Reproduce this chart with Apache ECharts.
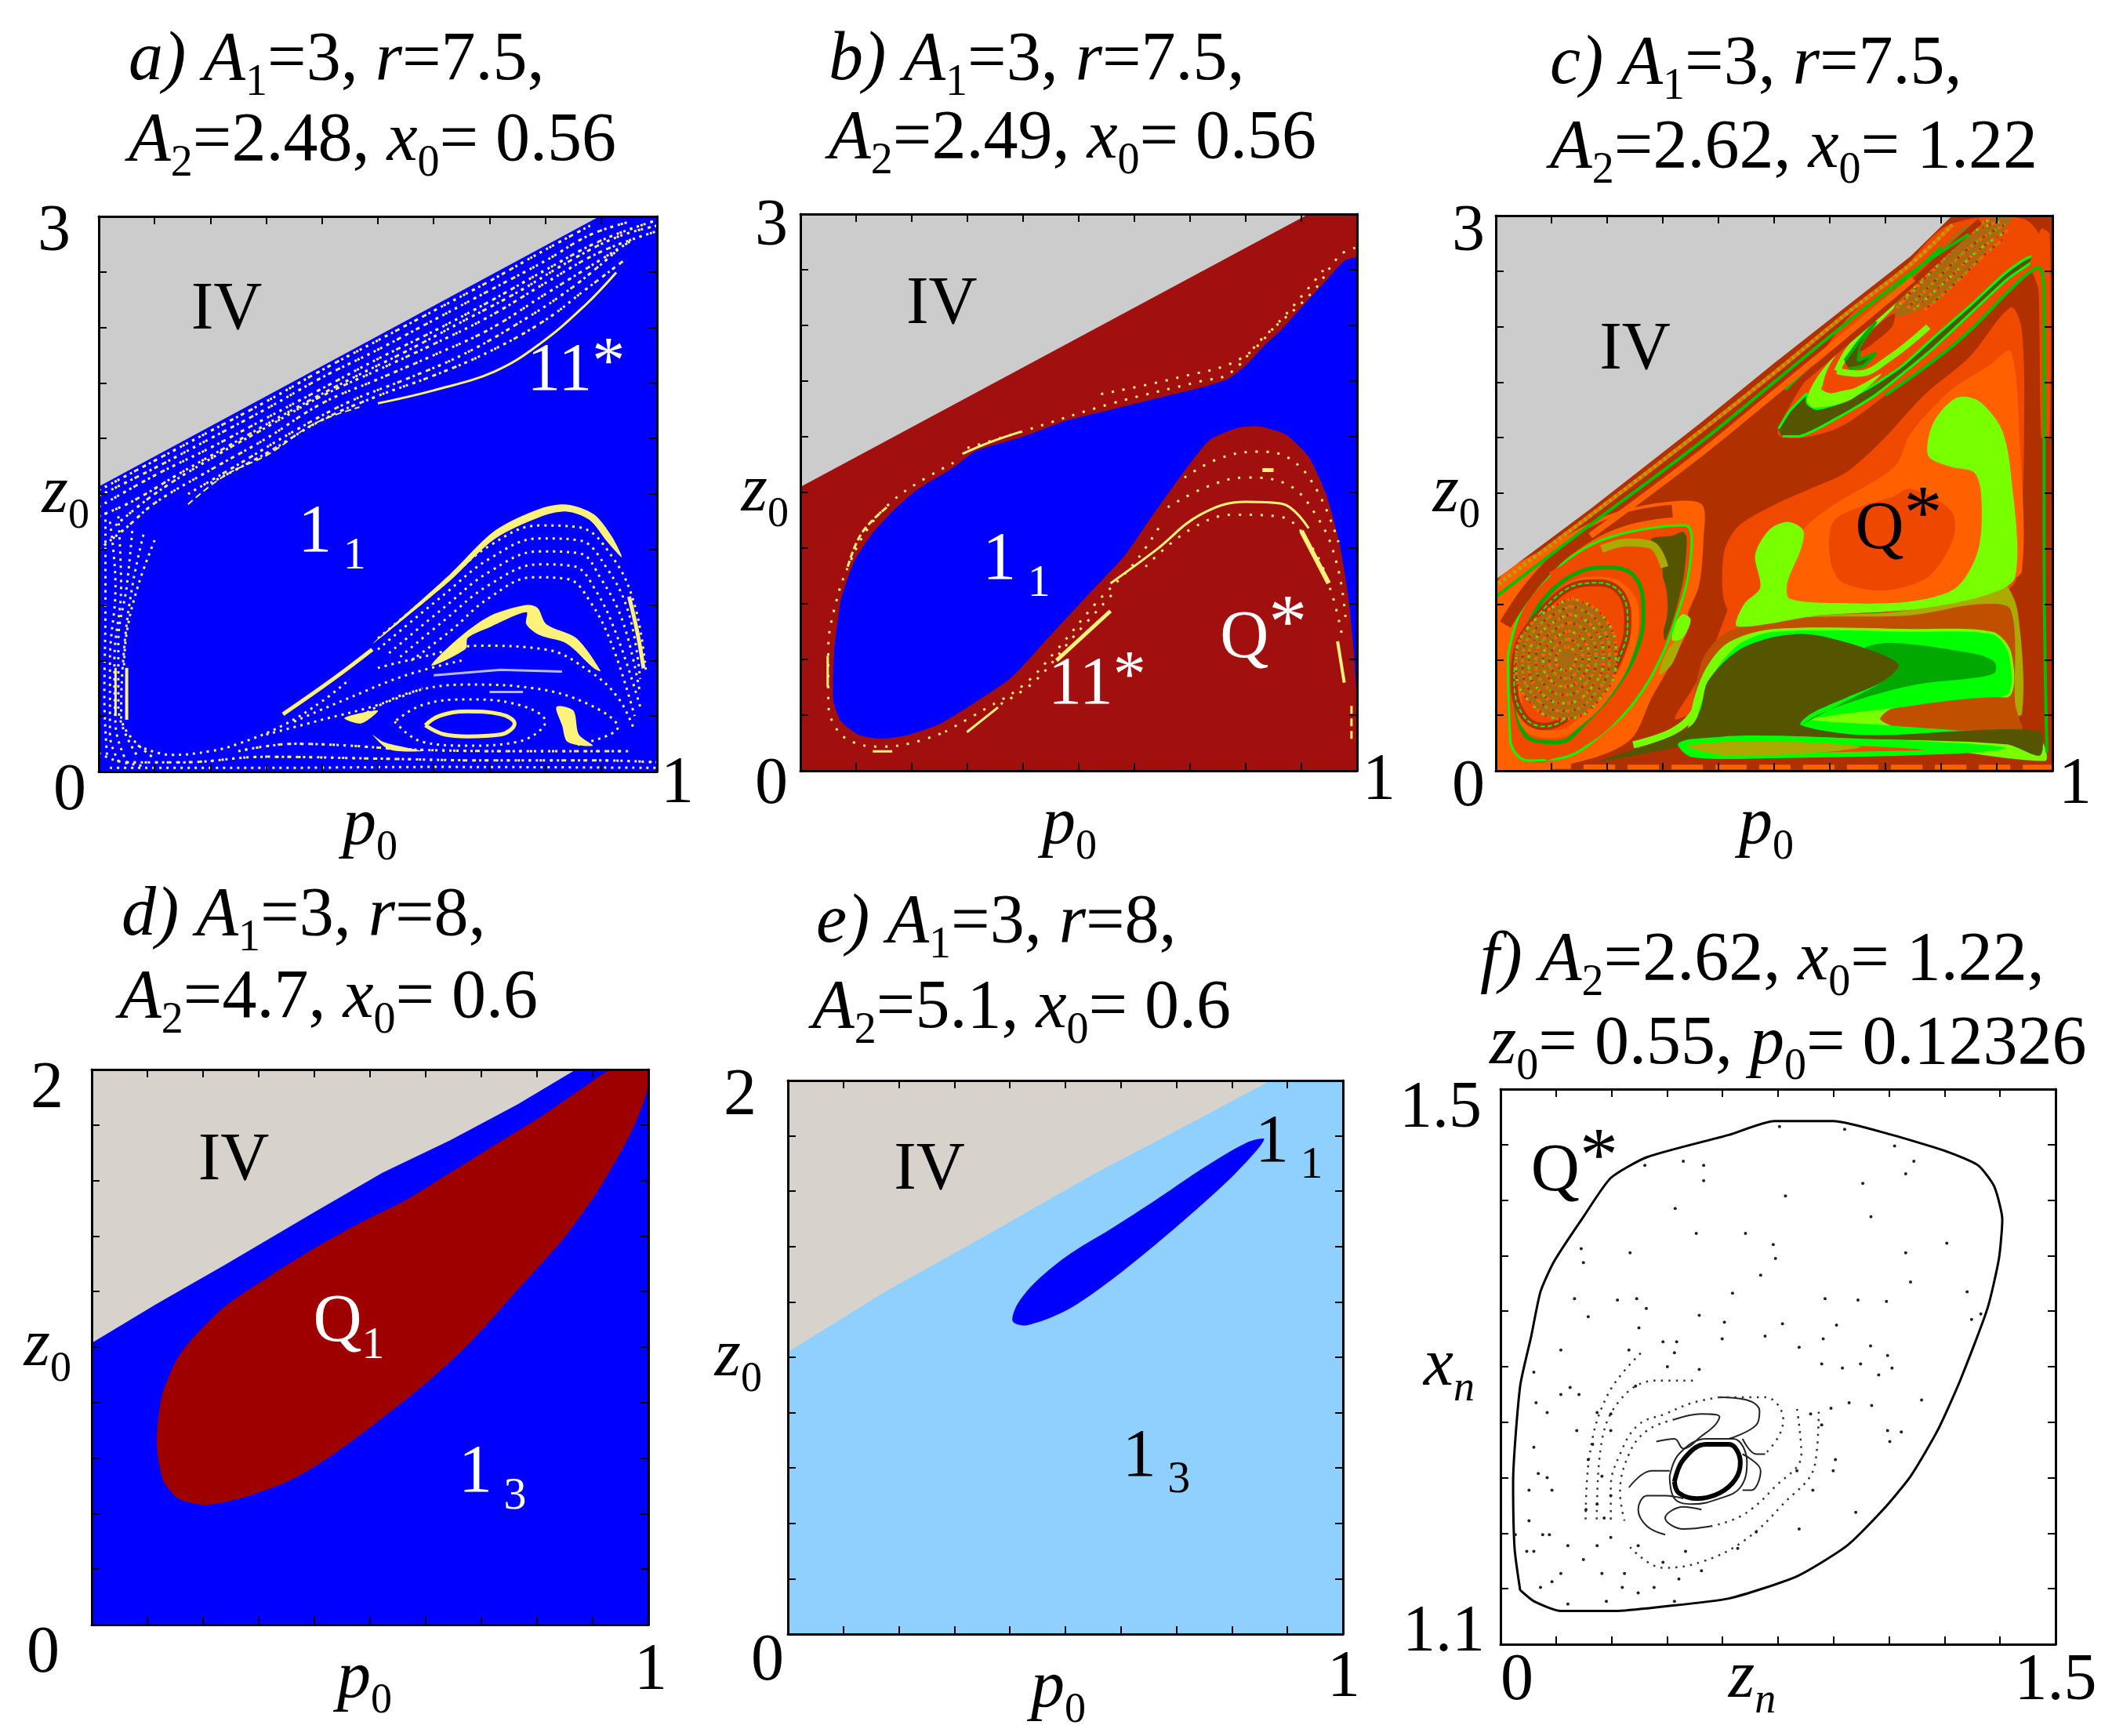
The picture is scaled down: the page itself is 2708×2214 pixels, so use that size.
<!DOCTYPE html>
<html>
<head>
<meta charset="utf-8">
<title>basins</title>
<style>html,body{margin:0;padding:0;background:#fff}#main{width:2708px;height:2214px}</style>
<script src="https://cdn.jsdelivr.net/npm/echarts@6/dist/echarts.min.js"></script>
</head>
<body>
<div id="main"></div>
<script>
// tick values
var pTicks = [0, .1, .2, .3, .4, .5, .6, .7, .8, .9, 1];
var z3Ticks = [0, .3, .6, .9, 1.2, 1.5, 1.8, 2.1, 2.4, 2.7, 3];
var z2Ticks = [0, .2, .4, .6, .8, 1, 1.2, 1.4, 1.6, 1.8, 2];
var znTicks = [0, .15, .3, .45, .6, .75, .9, 1.05, 1.2, 1.35, 1.5];
var xnTicks = [1.1, 1.14, 1.18, 1.22, 1.26, 1.3, 1.34, 1.38, 1.42, 1.46, 1.5];

// panel a
var a_iv = [[0, 1.54], [.897, 3], [0, 3]];
var a_band1 = [[0, 1.49], [.1, 1.64], [.2, 1.8], [.3, 1.96], [.4, 2.13], [.5, 2.28], [.6, 2.44], [.7, 2.6], [.8, 2.76], [.88, 2.9], [.95, 2.97]];
var a_band2 = [[0, 1.38], [.06, 1.46], [.15, 1.62], [.25, 1.79], [.35, 1.96], [.45, 2.12], [.55, 2.27], [.65, 2.43], [.75, 2.59], [.85, 2.77], [.93, 2.89], [1, 2.95]];
var a_band3 = [[0, 1.2], [.05, 1.32], [.1, 1.45], [.2, 1.63], [.3, 1.8], [.4, 1.99], [.5, 2.12], [.6, 2.25], [.7, 2.39], [.8, 2.58], [.88, 2.73], [.96, 2.88]];
var a_band4 = [[.2, 1.56], [.3, 1.72], [.4, 1.9], [.5, 2.03], [.6, 2.14], [.7, 2.27], [.8, 2.44], [.87, 2.6], [.94, 2.76]];
var a_band5 = [[0, 1.52], [.1, 1.68], [.2, 1.84], [.3, 2], [.4, 2.17], [.5, 2.33], [.6, 2.49], [.7, 2.65], [.8, 2.82], [.88, 2.95]];
var a_band6 = [[0, 1.43], [.1, 1.6], [.2, 1.75], [.3, 1.91], [.4, 2.07], [.5, 2.23], [.6, 2.38], [.7, 2.54], [.8, 2.71], [.9, 2.87], [1, 2.98]];
var a_band7 = [[.03, 1.33], [.1, 1.5], [.2, 1.69], [.3, 1.86], [.4, 2.03], [.5, 2.17], [.6, 2.31], [.7, 2.46], [.8, 2.64], [.9, 2.81], [1, 2.92]];
var a_band8 = [[.16, 1.5], [.25, 1.66], [.35, 1.84], [.45, 2], [.55, 2.12], [.65, 2.25], [.75, 2.42], [.85, 2.62], [.93, 2.82]];
var a_edge = [[.5, 1.99], [.6, 2.06], [.709, 2.162], [.79, 2.311], [.871, 2.519], [.927, 2.697]];
var a_edgeLow = [[.16, 1.444], [.225, 1.598], [.305, 1.717], [.386, 1.88], [.467, 1.969]];
var a_left1 = [[.02, 1.35], [.03, 1], [.02, .6], [.02, .2], [.04, .03]];
var a_left2 = [[.06, 1.3], [.05, 1], [.035, .7], [.035, .35], [.07, .08]];
var a_left3 = [[.1, 1.25], [.07, 1], [.05, .75], [.045, .55]];
var a_left4 = [[.012, 1.4], [.012, .9], [.01, .4], [.015, .08]];
var a_left5 = [[.035, 1.38], [.04, 1], [.028, .6], [.03, .25], [.05, .05]];
var a_left6 = [[.08, 1.28], [.06, 1], [.045, .65], [.04, .3], [.1, .07]];
var a_bar1 = [[.03, .3], [.03, .56]];
var a_bar2 = [[.05, .28], [.05, .56]];
var a_foot1 = [[.07, .14], [.13, .09], [.2, .11], [.25, .15], [.33, .25], [.4, .38], [.45, .5]];
var a_foot2 = [[.05, .05], [.15, .05], [.3, .08], [.5, .07], [.7, .06], [.9, .06], [1, .05]];
var a_foot3 = [[.02, .02], [.3, .02], [.6, .025], [1, .02]];
var a_foot4 = [[.25, .11], [.35, .15], [.45, .14], [.55, .12], [.75, .11], [.95, .11]];
var a_foot5 = [[.3, .2], [.4, .28], [.5, .36], [.58, .45]];
var a_foot6 = [[.35, .27], [.45, .4], [.55, .52], [.65, .6]];
var a_foot7 = [[0, .1], [.03, .06], [.08, .03]];
var a_crest = [[.491, .692], [.628, 1.063], [.709, 1.301], [.79, 1.42], [.838, 1.443], [.887, 1.39], [.919, 1.271], [.937, 1.158], [.911, 1.241], [.879, 1.36], [.838, 1.405], [.79, 1.375], [.709, 1.256], [.628, 1.028]];
var a_rise = [[.33, .31], [.42, .5], [.49, .66]];
var a_wall = [[.95, .945], [.965, .75], [.976, .558]];
var a_arc1 = [[.5, .72], [.62, 1.02], [.7, 1.22], [.79, 1.33], [.86, 1.32], [.92, 1.16], [.96, .9], [.98, .55]];
var a_arc2 = [[.5, .66], [.62, .96], [.7, 1.15], [.79, 1.26], [.86, 1.25], [.91, 1.1], [.95, .85], [.97, .5]];
var a_arc3 = [[.52, .64], [.62, .89], [.7, 1.08], [.79, 1.19], [.86, 1.18], [.9, 1.04], [.94, .8], [.97, .42]];
var a_arc4 = [[.54, .62], [.62, .82], [.7, 1.01], [.79, 1.12], [.85, 1.11], [.89, .98], [.93, .72], [.97, .35]];
var a_arc5 = [[.56, .6], [.63, .76], [.7, .94], [.78, 1.05], [.84, 1.04], [.88, .92], [.92, .68], [.96, .3]];
var a_arc6 = [[.5, .56], [.58, .62], [.68, .68], [.8, .66], [.88, .54], [.93, .4], [.96, .22]];
var a_blob = [[.596, .573], [.645, .722], [.701, .841], [.766, .9], [.786, .885], [.802, .796], [.855, .722], [.899, .544], [.887, .558], [.838, .692], [.79, .737], [.766, .796], [.766, .861], [.701, .781], [.661, .722], [.657, .662]];
var a_ring = [[.585, .25], [.62, .2], [.66, .19], [.72, .2], [.745, .26], [.72, .31], [.66, .325], [.61, .3], [.585, .25]];
var a_ring2 = [[.53, .27], [.58, .16], [.66, .14], [.75, .16], [.8, .27], [.74, .37], [.66, .39], [.58, .36], [.53, .27]];
var a_ring3 = [[.47, .3], [.55, .42], [.66, .47], [.78, .45], [.88, .36], [.93, .24], [.85, .14]];
var a_slash = [[.6, .52], [.72, .55], [.83, .54]];
var a_slash2 = [[.7, .43], [.76, .43]];
var a_cres = [[.82, .35], [.85, .33], [.86, .2], [.885, .14], [.84, .16], [.83, .25]];
var a_wing = [[.44, .29], [.5, .33], [.47, .26]];
var a_wing2 = [[.49, .2], [.51, .16], [.55, .13], [.58, .11], [.52, .12]];

// panel b
var b_iv = [[0, 1.53], [.913, 3], [0, 3]];
var b_blue = [[1, 2.762], [.977, 2.747], [.945, 2.643], [.913, 2.539], [.864, 2.376], [.832, 2.287], [.8, 2.183], [.767, 2.109], [.719, 2.064], [.638, 2.005], [.557, 1.945], [.477, 1.886], [.396, 1.797], [.315, 1.723], [.275, 1.634], [.21, 1.515], [.17, 1.411], [.129, 1.277], [.097, 1.129], [.073, .921], [.061, .653], [.059, .386], [.073, .267], [.105, .193], [.145, .172], [.194, .193], [.25, .252], [.315, .371], [.38, .505], [.444, .713], [.517, .95], [.582, 1.158], [.63, 1.366], [.687, 1.604], [.735, 1.782], [.784, 1.847], [.824, 1.856], [.872, 1.812], [.913, 1.693], [.945, 1.485], [.969, 1.218], [.985, .921], [.994, .653], [1, .401]];
var b_top1 = [[.3, 1.74], [.4, 1.83], [.56, 1.98], [.72, 2.1], [.77, 2.14], [.83, 2.33], [.92, 2.58], [.97, 2.78], [1, 2.82]];
var b_top2 = [[.54, 2.03], [.68, 2.12], [.79, 2.22], [.86, 2.42], [.94, 2.7]];
var b_thin = [[.291, 1.708], [.34, 1.77], [.396, 1.827]];
var b_left1 = [[.275, 1.66], [.21, 1.55], [.16, 1.44], [.12, 1.3], [.09, 1.13], [.065, .92], [.05, .65], [.05, .38], [.06, .25], [.09, .16], [.145, .13], [.2, .15], [.26, .21]];
var b_leftHi = [[.085, 1.1], [.11, 1.28], [.155, 1.42]];
var b_bar = [[.049, .45], [.049, .62]];
var b_low1 = [[.26, .21], [.33, .33], [.4, .46], [.46, .65], [.53, .9], [.6, 1.12], [.65, 1.34]];
var b_low2 = [[.36, .36], [.42, .48], [.49, .72], [.56, .95]];
var b_s1 = [[.46, .594], [.557, .861]];
var b_s2 = [[.299, .208], [.355, .342]];
var b_s3 = [[.9, 1.292], [.949, 1.01]];
var b_s4 = [[.965, .698], [.977, .475]];
var b_s5 = [[.99, .35], [.99, .15]];
var b_bar2 = [[.13, .105], [.165, .105]];
var b_arc0 = [[.557, 1.01], [.638, 1.188], [.719, 1.381], [.8, 1.449], [.864, 1.44], [.913, 1.307]];
var b_arc1 = [[.66, 1.42], [.73, 1.53], [.8, 1.58], [.87, 1.55], [.93, 1.36], [.965, 1.1], [.98, .8]];
var b_arc2 = [[.69, 1.58], [.75, 1.68], [.82, 1.72], [.88, 1.68], [.93, 1.5], [.97, 1.2]];
var b_dash = [[.83, 1.62], [.85, 1.62]];
var b_arc3 = [[.62, 1.1], [.7, 1.3], [.78, 1.38], [.86, 1.37], [.92, 1.2], [.955, .95], [.975, .7]];

// panel c, regions
var c_iv = [[0, 1.034], [.172, 1.42], [.368, 1.88], [.499, 2.2], [.63, 2.51], [.745, 2.78], [.82, 3], [0, 3]];
var c_M = [[.417, .87], [.409, 1.167], [.434, 1.316], [.499, 1.435], [.565, 1.524], [.63, 1.613], [.696, 1.791], [.769, 2.029], [.851, 2.236], [.925, 2.504], [.945, 2.385], [.949, 1.791], [.941, 1.197], [.925, .989], [.786, .915], [.63, .87], [.483, .87]];
var c_diag = [[.322, .281], [.355, .451], [.392, .677], [.43, .987], [.467, 1.326], [.467, .705], [.392, .493], [.364, .338]];
var c_O = [[.528, .93], [.524, 1.019], [.548, 1.197], [.552, 1.301], [.606, 1.435], [.716, 1.642], [.745, 1.821], [.818, 2.058], [.885, 2.188], [.925, 2.266], [.941, 1.791], [.945, 1.078], [.908, 1.019], [.745, .915], [.63, .906]];
var c_lime = [[.466, 1.167], [.491, 1.301], [.524, 1.345], [.552, 1.301], [.548, 1.197], [.524, 1.019], [.528, .93], [.63, .906], [.745, .915], [.827, .989], [.867, 1.197], [.872, 1.494], [.859, 1.613], [.818, 1.642], [.777, 1.702], [.786, 1.88], [.827, 2.014], [.867, 1.999], [.908, 1.85], [.925, 1.613], [.933, 1.048], [.876, .945], [.745, .87], [.581, .84], [.434, .781], [.446, .9], [.475, .989]];
var c_Qc = [[.601, 1.138], [.606, 1.345], [.663, 1.435], [.712, 1.479], [.745, 1.524], [.818, 1.405], [.822, 1.256], [.777, 1.048], [.696, .974], [.622, 1.019]];
var c_olive2 = [[.434, .781], [.581, .84], [.745, .87], [.876, 1.004], [.908, 1.034], [.937, .87], [.945, .306], [.908, .336], [.663, .781], [.499, .781]];
var c_lowO = [[.368, .573], [.417, .751], [.54, .826], [.745, .84], [.867, .9], [.925, .87], [.933, .365], [.941, .187], [.663, .187], [.368, .217]];
var c_limeLow = [[.352, .336], [.376, .544], [.417, .692], [.499, .766], [.745, .766], [.892, .751], [.925, .647], [.925, .41], [.859, .38], [.712, .336], [.691, .276], [.745, .217], [.949, .217], [.982, .157], [.986, .053], [.663, .172], [.352, .172]];
var c_green = [[.385, .484], [.434, .677], [.499, .751], [.745, .751], [.892, .737], [.921, .633], [.917, .41], [.745, .35], [.622, .306], [.565, .276], [.696, .247], [.908, .202], [.966, .187], [.663, .172], [.368, .202]];
var c_dkgreen = [[.663, .662], [.712, .692], [.859, .633], [.896, .588], [.896, .529], [.851, .499], [.761, .469], [.663, .395], [.581, .306], [.548, .247], [.622, .365], [.696, .484], [.724, .573]];
var c_dkolive = [[.368, .336], [.381, .484], [.434, .647], [.499, .722], [.565, .737], [.663, .662], [.724, .573], [.696, .484], [.63, .395], [.565, .306], [.548, .247], [.663, .193], [.974, .217], [.978, .083], [.917, .143], [.663, .172], [.417, .187], [.303, .113], [.188, .053], [.303, .172], [.352, .247]];
var c_patch = [[.696, .291], [.745, .35], [.925, .395], [.933, .306], [.945, .232], [.745, .241]];
var c_lens = [[.327, .143], [.352, .172], [.499, .187], [.663, .172], [.827, .151], [.917, .122], [.827, .092], [.499, .068], [.352, .074]];
var c_wisp = [[.352, .134], [.417, .148], [.663, .134], [.769, .113], [.663, .104], [.499, .098], [.401, .104]];
var c_lensOl = [[.344, .134], [.417, .157], [.581, .151], [.655, .128], [.581, .098], [.417, .083]];

// panel c, lower left whorl
var c_lobe = [[0, 1], [.1, 1.22], [.2, 1.38], [.3, 1.45], [.37, 1.44], [.373, 1.25], [.365, 1], [.345, .846], [.35, .8], [.322, .62], [.28, .394], [.242, .168], [.158, .055], [0, 0]];
var c_cresc = [[.28, 1.256], [.317, 1.27], [.336, 1.291], [.343, 1.256], [.338, 1.058], [.329, .931], [.317, .804], [.303, .705], [.3, .987], [.298, 1.115], [.284, 1.213]];
var c_oliveL = [[.308, .648], [.336, .733], [.317, .578], [.294, .521]];
var c_limeTip = [[.336, .846], [.35, .818], [.336, .719], [.317, .705], [.322, .79]];
var c_ringA = [[.022, .62], [.045, .86], [.097, 1.058], [.158, 1.199], [.214, 1.27], [.28, 1.312], [.34, 1.326], [.352, 1.256], [.345, 1.044], [.326, .846], [.298, .62], [.251, .38], [.195, .211], [.12, .07], [.059, .055], [.026, .168], [.022, .62]];
var c_ringB = [[.017, .79], [.073, 1.03], [.144, 1.227], [.228, 1.355], [.317, 1.404]];
var c_ringC = [[.101, 1.044], [.158, 1.129], [.214, 1.171], [.261, 1.143], [.289, 1.044], [.298, .874], [.289, .747], [.27, .564], [.223, .338], [.158, .168], [.087, .084]];
var c_ringD = [[.19, 1.199], [.237, 1.234], [.28, 1.22], [.303, 1.1]];
var c_ringE = [[.05, .733], [.087, .931], [.148, 1.072], [.204, 1.1], [.251, 1.044], [.265, .846], [.256, .677], [.223, .479], [.167, .281], [.111, .154], [.064, .168], [.036, .338], [.031, .564], [.05, .733]];
var c_ringF = [[.064, .776], [.12, .973], [.176, 1.03], [.223, 1.001], [.251, .846], [.242, .649], [.209, .451], [.158, .281], [.106, .197], [.059, .225], [.04, .423], [.045, .62], [.064, .776]];
var c_ringG = [[.078, .846], [.13, .987], [.186, 1.016], [.228, .945], [.237, .79], [.223, .62], [.19, .451], [.139, .31], [.087, .239], [.05, .296], [.033, .479], [.04, .677], [.078, .846]];
var c_limeS = [[.247, .14], [.317, .211], [.355, .31], [.369, .422], [.416, .592], [.467, .719]];
var c_greenS = [[.255, .11], [.33, .18], [.37, .3], [.38, .4], [.43, .56], [.47, .68]];
var c_spiral1 = [[.135, .931], [.191, .84], [.216, .622], [.191, .404], [.122, .281], [.061, .372], [.036, .573], [.061, .785], [.135, .931]];
var c_spiral2 = [[.134, .889], [.182, .81], [.204, .62], [.182, .431], [.122, .323], [.07, .402], [.048, .578], [.07, .762], [.134, .889]];
var c_spiral3 = [[.133, .847], [.174, .779], [.193, .618], [.174, .457], [.123, .365], [.078, .433], [.059, .582], [.078, .738], [.133, .847]];
var c_spiral4 = [[.131, .801], [.165, .747], [.18, .616], [.165, .485], [.123, .411], [.087, .466], [.072, .586], [.087, .713], [.131, .801]];
var c_spiral5 = [[.13, .756], [.156, .714], [.167, .613], [.156, .513], [.124, .456], [.096, .498], [.085, .591], [.096, .688], [.13, .756]];
var c_spiral6 = [[.129, .713], [.147, .683], [.156, .611], [.147, .539], [.125, .499], [.105, .529], [.096, .595], [.105, .665], [.129, .713]];
var c_spiral7 = [[.128, .671], [.139, .653], [.144, .609], [.139, .566], [.125, .541], [.113, .559], [.108, .6], [.113, .642], [.128, .671]];

// panel c, upper right whorl
var c_tr = [[.507, 1.82], [.53, 1.98], [.565, 2.15], [.63, 2.44], [.728, 2.7], [.814, 2.95], [.95, 2.98], [.99, 2.78], [.949, 2.66], [.826, 2.32], [.7, 2.03], [.62, 1.86], [.55, 1.8]];
var c_trOl = [[.508, 1.849], [.529, 1.948], [.559, 2.04], [.559, 1.99], [.576, 1.955], [.618, 1.99], [.674, 2.075], [.73, 2.188], [.787, 2.343], [.852, 2.513], [.918, 2.696], [.965, 2.781], [.979, 2.781], [.965, 2.753], [.918, 2.654], [.787, 2.287], [.683, 2.033], [.613, 1.906], [.543, 1.807], [.515, 1.807]];
var c_trLime = [[.559, 2.004], [.575, 2.117], [.613, 2.258], [.637, 2.329], [.613, 2.174], [.585, 2.061], [.637, 2.061], [.693, 2.146], [.637, 2.004], [.571, 1.962]];
var c_trIn = [[.587, 2.061], [.599, 2.188], [.637, 2.343], [.693, 2.513], [.758, 2.654], [.796, 2.696], [.824, 2.597], [.777, 2.428], [.693, 2.174], [.637, 2.075], [.604, 2.04]];
var c_limeT1 = [[.613, 2.16], [.637, 2.287], [.683, 2.428], [.74, 2.597]];
var c_limeT2 = [[.613, 2.16], [.651, 2.146], [.707, 2.23], [.777, 2.4]];
var c_inOl = [[.627, 2.216], [.651, 2.315], [.683, 2.428], [.655, 2.287], [.651, 2.216], [.683, 2.258], [.66, 2.188], [.636, 2.174]];
var c_inCore = [[.655, 2.287], [.683, 2.4], [.716, 2.47], [.712, 2.4], [.674, 2.301], [.655, 2.265]];
var c_noise = [[.716, 2.513], [.777, 2.739], [.838, 2.936], [.904, 2.993], [.927, 2.979], [.88, 2.809], [.824, 2.626], [.758, 2.484], [.721, 2.456]];
var c_n1 = [[.73, 2.53], [.79, 2.72], [.85, 2.9], [.91, 2.97]];
var c_n2 = [[.74, 2.5], [.8, 2.68], [.86, 2.85], [.92, 2.96]];
var c_n3 = [[.75, 2.49], [.81, 2.65], [.87, 2.82], [.92, 2.92]];
var c_n4 = [[.77, 2.49], [.82, 2.62], [.875, 2.78], [.91, 2.87]];
var c_n5 = [[.72, 2.5], [.78, 2.71], [.84, 2.9], [.89, 2.98]];
var c_rim = [[.96, 2.74], [.98, 2.93], [.995, 2.9], [.995, 1.8], [.98, 1.8], [.975, 2.6]];
var c_band1 = [[.5, 1.98], [.6, 2.24], [.7, 2.5], [.8, 2.78], [.87, 2.97]];
var c_band2 = [[.52, 2.06], [.6, 2.29], [.7, 2.55], [.8, 2.83]];
var c_edge1 = [[0, 1], [.17, 1.38], [.37, 1.84], [.5, 2.15], [.63, 2.47], [.75, 2.75], [.82, 2.95]];
var c_edge2 = [[0, .94], [.17, 1.33], [.37, 1.78], [.5, 2.1], [.63, 2.42], [.75, 2.7], [.85, 2.9]];
var c_edge3 = [[.17, 1.27], [.37, 1.72], [.5, 2.04], [.63, 2.36], [.75, 2.66]];
var c_wall = [[.7, 2.03], [.83, 2.32], [.945, 2.66], [.975, 2.72], [.985, 2.5], [.985, 1.2], [.99, .1]];
var c_foot = [[0, .025], [.3, .02], [.6, .02], [1, .02]];

// panel d
var d_iv = [[0, 1.015], [.117, 1.156], [.239, 1.296], [.401, 1.487], [.522, 1.628], [.644, 1.745], [.765, 1.874], [.87, 2], [0, 2]];
var d_q = [[.935, 2], [1, 2], [.996, 1.91], [.968, 1.769], [.911, 1.568], [.846, 1.387], [.765, 1.206], [.684, 1.025], [.603, .874], [.522, .744], [.441, .623], [.36, .523], [.279, .462], [.206, .432], [.158, .452], [.13, .513], [.119, .603], [.117, .683], [.126, .824], [.15, .945], [.174, 1.015], [.239, 1.146], [.32, 1.256], [.401, 1.357], [.482, 1.447], [.563, 1.528], [.644, 1.628], [.725, 1.729], [.806, 1.829], [.887, 1.94]];

// panel e
var e_iv = [[0, 1.019], [.178, 1.24], [.34, 1.421], [.551, 1.662], [.704, 1.823], [.87, 2], [0, 2]];
var e_blue = [[.858, 1.787], [.826, 1.775], [.745, 1.68], [.664, 1.57], [.583, 1.465], [.502, 1.365], [.445, 1.27], [.413, 1.19], [.405, 1.13], [.429, 1.115], [.502, 1.17], [.583, 1.28], [.664, 1.41], [.745, 1.55], [.81, 1.672]];

// panel f
var f_outer = [[.053, 1.139], [.038, 1.169], [.034, 1.217], [.053, 1.286], [.083, 1.322], [.108, 1.354], [.145, 1.376], [.224, 1.408], [.298, 1.436], [.396, 1.451], [.617, 1.467], [.74, 1.477], [.899, 1.477], [1.058, 1.467], [1.206, 1.455], [1.291, 1.445], [1.334, 1.43], [1.356, 1.406], [1.347, 1.378], [1.316, 1.342], [1.242, 1.29], [1.181, 1.254], [1.108, 1.221], [1.034, 1.197], [.936, 1.171], [.801, 1.149], [.617, 1.133], [.433, 1.127], [.31, 1.124], [.163, 1.124], [.09, 1.131], [.053, 1.139]];
var f_core = [[.47, 1.217], [.494, 1.233], [.556, 1.244], [.617, 1.244], [.648, 1.231], [.635, 1.219], [.592, 1.209], [.531, 1.205], [.482, 1.209], [.47, 1.217]];
var f_core2 = [[.457, 1.221], [.482, 1.237], [.556, 1.248], [.629, 1.248], [.666, 1.231], [.648, 1.213], [.592, 1.205], [.519, 1.201], [.47, 1.205], [.457, 1.221]];
var f_arm1 = [[.421, 1.246], [.47, 1.248], [.494, 1.241], [.543, 1.25], [.58, 1.258], [.592, 1.264], [.543, 1.266], [.47, 1.262]];
var f_arm2 = [[.617, 1.248], [.691, 1.258], [.7, 1.268], [.666, 1.276], [.592, 1.278]];
var f_arm3 = [[.715, 1.237], [.691, 1.237], [.654, 1.248]];
var f_arm4 = [[.494, 1.205], [.445, 1.207], [.396, 1.207], [.372, 1.197], [.396, 1.185], [.445, 1.179]];
var f_arm5 = [[.543, 1.197], [.494, 1.199], [.445, 1.191], [.494, 1.183], [.568, 1.185]];
var f_arm6 = [[.654, 1.211], [.678, 1.211], [.703, 1.225], [.654, 1.237]];
var f_arm7 = [[.347, 1.213], [.408, 1.225], [.457, 1.225]];
var f_dot1 = [[.47, 1.262], [.396, 1.254], [.347, 1.237], [.323, 1.209], [.335, 1.189]];
var f_dot2 = [[.592, 1.278], [.519, 1.274], [.445, 1.266], [.372, 1.258], [.323, 1.237], [.298, 1.213], [.298, 1.189]];
var f_dot3 = [[.592, 1.278], [.715, 1.278], [.764, 1.262], [.752, 1.25], [.715, 1.237]];
var f_dot4 = [[.568, 1.185], [.654, 1.193], [.74, 1.213], [.813, 1.237], [.801, 1.27]];
var f_dot5 = [[.26, 1.19], [.27, 1.24], [.32, 1.275], [.42, 1.29], [.52, 1.29]];
var f_dot6 = [[.35, 1.17], [.44, 1.155], [.55, 1.16], [.66, 1.175], [.76, 1.2], [.85, 1.23], [.86, 1.27]];
var f_dot7 = [[.23, 1.19], [.24, 1.235], [.29, 1.28], [.38, 1.31]];
var f_dots = [[.754, 1.473], [.93, 1.471], [1.065, 1.459], [1.117, 1.448], [1.095, 1.439], [.979, 1.432], [.77, 1.423], [.549, 1.445], [.494, 1.448], [.39, 1.445], [.549, 1.434], [.472, 1.414], [.529, 1.396], [.662, 1.396], [1.001, 1.408], [1.206, 1.389], [1.095, 1.382], [.737, 1.388], [.743, 1.378], [.35, 1.382], [.218, 1.385], [.224, 1.375], [.703, 1.366], [1.108, 1.361], [1.261, 1.354], [.627, 1.353], [.877, 1.349], [.966, 1.348], [1.043, 1.347], [.2, 1.349], [.316, 1.348], [.368, 1.349], [.394, 1.342], [.537, 1.337], [.237, 1.336], [.374, 1.328], [.605, 1.332], [.762, 1.331], [.908, 1.33], [1.298, 1.338], [1.273, 1.334], [1, 1.315], [.872, 1.32], [.807, 1.314], [.715, 1.322], [.599, 1.32], [.476, 1.318], [.439, 1.318], [.163, 1.312], [.347, 1.312], [.47, 1.31], [1.046, 1.308], [.973, 1.302], [.924, 1.299], [.868, 1.302], [.537, 1.298], [.451, 1.3], [1.022, 1.294], [1.058, 1.299], [.09, 1.296], [.365, 1.286], [.188, 1.285], [.163, 1.28], [.212, 1.28], [1.138, 1.276], [.942, 1.274], [1.003, 1.272], [.893, 1.27], [.096, 1.274], [.126, 1.267], [.261, 1.267], [.298, 1.266], [.838, 1.266], [.868, 1.258], [1.046, 1.254], [1.083, 1.253], [.206, 1.254], [.09, 1.242], [1.052, 1.246], [.905, 1.233], [.249, 1.244], [.298, 1.254], [.102, 1.223], [.126, 1.22], [.237, 1.233], [.274, 1.221], [.801, 1.225], [.899, 1.225], [.844, 1.211], [.96, 1.195], [.807, 1.183], [.641, 1.169], [.691, 1.181], [.077, 1.211], [.139, 1.211], [.298, 1.207], [.261, 1.201], [.231, 1.197], [.28, 1.191], [.077, 1.189], [.114, 1.179], [.132, 1.179], [.04, 1.179], [.182, 1.171], [.261, 1.171], [.298, 1.177], [.372, 1.171], [.071, 1.167], [.09, 1.167], [.224, 1.161], [.274, 1.151], [.335, 1.151], [.543, 1.153], [.439, 1.159], [.5, 1.167], [.482, 1.147], [.415, 1.141], [.372, 1.137], [.163, 1.151], [.139, 1.145], [.108, 1.141], [.182, 1.129], [.286, 1.131], [.47, 1.131], [.329, 1.141]];

var SERIF = '"Liberation Serif"';
var BLUE = '#0000ff', YEL = '#fff27a', RED = '#a10f0f', GRAY = '#cccccc', WARM = '#d8d2cc';

// layout per panel; labTop/labBot: shift of the y labels below the tick, gapTop/gapBot: distance to the axis
var panels = [
    { left: 126, top: 276, width: 712, height: 708, bg: BLUE, xMax: 1, yMin: 0, yMax: 3, xTicks: pTicks, yTicks: z3Ticks, labTop: 21, labBot: 26, gapTop: 36, gapBot: 16, xMargin: -25, xPad: 52, nameGapY: 12, nameShift: 20 },
    { left: 1021, top: 273, width: 710, height: 710, bg: RED, xMax: 1, yMin: 0, yMax: 3, xTicks: pTicks, yTicks: z3Ticks, labTop: 17, labBot: 19, gapTop: 16, gapBot: 16, xMargin: -28, xPad: 56, nameGapY: 15, nameShift: 24 },
    { left: 1908, top: 275, width: 710, height: 708, bg: '#b03000', xMax: 1, yMin: 0, yMax: 3, xTicks: pTicks, yTicks: z3Ticks, labTop: 22, labBot: 22, gapTop: 14, gapBot: 14, xMargin: -23, xPad: 58, nameGapY: 20, nameShift: 20 },
    { left: 117, top: 1364, width: 710, height: 708, bg: BLUE, xMax: 1, yMin: 0, yMax: 2, xTicks: pTicks, yTicks: z2Ticks, labTop: 26, labBot: 38, gapTop: 36, gapBot: 41, xMargin: 18, xPad: 6, nameGapY: 26, nameShift: 14 },
    { left: 1005, top: 1378, width: 708, height: 706, bg: '#90d0ff', xMax: 1, yMin: 0, yMax: 2, xTicks: pTicks, yTicks: z2Ticks, labTop: 21, labBot: 36, gapTop: 40, gapBot: 5, xMargin: 15, xPad: 2, nameGapY: 33, nameShift: 18 },
    { left: 1914, top: 1389, width: 708, height: 708, bg: '#ffffff', xMax: 1.5, yMin: 1.1, yMax: 1.5, xTicks: znTicks, yTicks: xnTicks, labTop: 26, labBot: 14, gapTop: 24, gapBot: 20, xMargin: 6, xPad: 0, nameGapY: 33, nameShift: 66 }
];

// title lines: left, centre y, rich text
var A1 = '{i|A}{s|1}', A2 = '{i|A}{s|2}', X0 = '{i|x}{s|0}', Z0 = '{i|z}{s|0}', P0 = '{i|p}{s|0}';
var titleLines = [
    [164, 78, '{i|a) }' + A1 + '{n|=3, }{i|r}{n|=7.5,}'],
    [164, 181, A2 + '{n|=2.48, }' + X0 + '{n|= 0.56}'],
    [1057, 78, '{i|b) }' + A1 + '{n|=3, }{i|r}{n|=7.5,}'],
    [1057, 178, A2 + '{n|=2.49, }' + X0 + '{n|= 0.56}'],
    [1977, 83, '{i|c) }' + A1 + '{n|=3, }{i|r}{n|=7.5,}'],
    [1977, 190, A2 + '{n|=2.62, }' + X0 + '{n|= 1.22}'],
    [155, 1169, '{i|d) }' + A1 + '{n|=3, }{i|r}{n|=8,}'],
    [152, 1274, A2 + '{n|=4.7, }' + X0 + '{n|= 0.6}'],
    [1041, 1178, '{i|e) }' + A1 + '{n|=3, }{i|r}{n|=8,}'],
    [1036, 1287, A2 + '{n|=5.1, }' + X0 + '{n|= 0.6}'],
    [1888, 1226, '{i|f) }' + A2 + '{n|=2.62, }' + X0 + '{n|= 1.22,}'],
    [1900, 1333, Z0 + '{n|= 0.55, }' + P0 + '{n|= 0.12326}']
];

var richText = {
    n: { fontFamily: SERIF, fontSize: 88, fontWeight: 'normal', lineHeight: 96, color: '#000' },
    i: { fontFamily: SERIF, fontSize: 88, fontWeight: 'normal', fontStyle: 'italic', lineHeight: 96, color: '#000' },
    s: { fontFamily: SERIF, fontSize: 56, fontWeight: 'normal', lineHeight: 112, verticalAlign: 'bottom', color: '#000' }
};

var series = [];

// series are stacked strictly in the order they are added
function poly(i, pts, color, smooth) {
    series.push({
        type: 'custom', xAxisIndex: i * 2, yAxisIndex: i * 2, clip: true, silent: true,
        data: pts, encode: { x: 0, y: 1 }, z: series.length + 2,
        renderItem: function (params, api) {
            if (params.dataIndex !== 0) return null;
            return {
                type: 'polygon',
                shape: { points: pts.map(function (d) { return api.coord(d); }), smooth: smooth || 0 },
                style: { fill: color }
            };
        }
    });
}

function line(i, pts, color, width, dash, smooth, offset) {
    series.push({
        type: 'line', xAxisIndex: i * 2, yAxisIndex: i * 2, data: pts, symbol: 'none', silent: true, z: series.length + 2,
        smooth: smooth === undefined ? 0.4 : smooth,
        lineStyle: { color: color, width: width, type: dash || 'solid', dashOffset: offset || 0, cap: 'butt' }
    });
}

function tag(i, x, y, text, color) {
    series.push({
        type: 'scatter', xAxisIndex: i * 2, yAxisIndex: i * 2, data: [[x, y]], symbolSize: 0, silent: true, z: 6000,
        itemStyle: { opacity: 1 },
        label: {
            show: true, position: 'inside', formatter: text, color: color,
            fontFamily: SERIF, fontSize: 86,
            rich: {
                n: { fontFamily: SERIF, fontSize: 86, lineHeight: 100, color: color },
                s: { fontFamily: SERIF, fontSize: 58, lineHeight: 116, verticalAlign: 'bottom', color: color },
                st: { fontFamily: SERIF, fontSize: 84, lineHeight: 100, verticalAlign: 'top', color: color },
                q: { fontFamily: SERIF, fontSize: 98, lineHeight: 130, verticalAlign: 'top', color: color }
            }
        }
    });
}

var SPECK = [3, 6], SPECK2 = [3, 11];

// a
[a_band1, a_band2, a_band3, a_band4, a_band5, a_band6, a_band7, a_band8, a_left1, a_left2, a_left3, a_left4, a_left5, a_left6, a_arc1, a_arc2, a_arc3, a_arc4, a_arc5, a_arc6, a_foot1, a_foot2, a_foot3, a_foot4, a_foot5, a_foot6, a_foot7, a_ring2, a_ring3].forEach(function (d) {
    line(0, d, YEL, 3, SPECK);
});
[a_band1, a_band2, a_band3, a_band4, a_band5, a_band6, a_band7, a_band8, a_foot2, a_foot4].forEach(function (d) {
    line(0, d, YEL, 3, SPECK2, 0.4, 5);
});
line(0, a_edge, YEL, 3);
line(0, a_edgeLow, YEL, 2, [8, 5]);
line(0, a_bar1, YEL, 3, null, 0);
line(0, a_bar2, YEL, 4, null, 0);
line(0, a_rise, YEL, 5);
line(0, a_wall, YEL, 5);
line(0, a_slash, '#b9b9ff', 3, null, 0);
line(0, a_slash2, '#b9b9ff', 3, null, 0);
line(0, a_ring, YEL, 5);
poly(0, a_crest, YEL, 0.3);
poly(0, a_blob, YEL, 0.3);
poly(0, a_cres, YEL, 0.3);
poly(0, a_wing, YEL, 0.3);
poly(0, a_wing2, YEL, 0.3);
poly(0, a_iv, GRAY);
tag(0, .229, 2.49, '{n|IV}', '#000');
tag(0, .418, 1.286, '{n|1}{s| 1}', '#fff');
tag(0, .855, 2.16, '{n|11}{st|*}', '#fff');

// b
poly(1, b_blue, BLUE, 0.2);
poly(1, b_iv, GRAY);
[b_top1, b_top2, b_left1, b_low1, b_low2, b_arc1, b_arc2, b_arc3].forEach(function (d) {
    line(1, d, YEL, 3, SPECK2);
});
line(1, b_thin, YEL, 3);
line(1, b_leftHi, YEL, 3, [8, 4]);
line(1, b_bar, YEL, 3, null, 0);
line(1, b_bar2, YEL, 3, null, 0);
line(1, b_s1, YEL, 5, null, 0);
line(1, b_s2, YEL, 3, null, 0);
line(1, b_s3, YEL, 6, null, 0);
line(1, b_s4, YEL, 4, null, 0);
line(1, b_s5, YEL, 3, [10, 6], 0);
line(1, b_dash, YEL, 5, null, 0);
line(1, b_arc0, YEL, 3);
tag(1, .254, 2.51, '{n|IV}', '#000');
tag(1, .388, 1.13, '{n|1}{s| 1}', '#fff');
tag(1, .533, .46, '{n|11}{st|*}', '#fff');
tag(1, .832, .71, '{n|Q}{q|*}', '#fff');

// c: layers from back to front
var ORANGE = '#ff6000', MID = '#f04a00', LIME = '#78ff00', OLIVE = '#aaaa00', DKOLIVE = '#555500', DKGREEN = '#00a800', BRIGHT = '#00ff00', BROWN = '#b03000', RUST = '#c05000';
poly(2, c_lobe, ORANGE, 0.3);
poly(2, c_M, MID, 0.3);
poly(2, c_diag, MID, 0.3);
line(2, c_limeS, LIME, 9);
line(2, c_greenS, BRIGHT, 6);
poly(2, c_olive2, OLIVE, 0.3);
poly(2, c_lowO, RUST, 0.3);
poly(2, c_limeLow, LIME, 0.3);
poly(2, c_green, BRIGHT, 0.3);
poly(2, c_dkgreen, DKGREEN, 0.3);
poly(2, c_dkolive, DKOLIVE, 0.3);
poly(2, c_patch, RUST, 0.3);
poly(2, c_lens, BRIGHT, 0.3);
poly(2, c_wisp, MID, 0.3);
poly(2, c_lensOl, OLIVE, 0.3);
poly(2, c_O, ORANGE, 0.3);
poly(2, c_lime, LIME, 0.3);
poly(2, c_Qc, '#ee4800', 0.3);
poly(2, c_ringA, MID, 0.4);
poly(2, c_cresc, DKOLIVE, 0.3);
poly(2, c_oliveL, OLIVE, 0.3);
poly(2, c_limeTip, LIME, 0.3);
line(2, c_ringA, BRIGHT, 3, null, 0.4);
line(2, c_ringB, BROWN, 16, null, 0.4);
line(2, c_ringC, MID, 15, null, 0.4);
line(2, c_ringD, OLIVE, 10, null, 0.4);
line(2, c_ringE, DKGREEN, 5, null, 0.4);
line(2, c_ringF, ORANGE, 9, null, 0.4);
line(2, c_ringG, BROWN, 9, null, 0.4);
line(2, c_ringG, BRIGHT, 2, [6, 3], 0.4);
poly(2, c_spiral1, '#a86a10', 0.4);
[c_spiral1, c_spiral2, c_spiral3, c_spiral4, c_spiral5, c_spiral6, c_spiral7].forEach(function (d, k) {
    line(2, d, ORANGE, 4, [4, 3], 0.5);
    line(2, d, k % 2 ? '#30d000' : '#a03000', 3, [2, 7], 0.5, 3);
    line(2, d, k % 2 ? '#a03000' : '#60e000', 3, [3, 11], 0.5, 8);
});
poly(2, c_tr, MID, 0.3);
poly(2, c_trOl, DKOLIVE, 0.2);
line(2, c_trOl, BRIGHT, 3, null, 0.2);
poly(2, c_trLime, LIME, 0.3);
poly(2, c_trIn, MID, 0.3);
line(2, c_limeT1, LIME, 8);
line(2, c_limeT2, LIME, 8);
poly(2, c_inOl, DKOLIVE, 0.2);
line(2, c_inOl, '#00b000', 4, null, 0.2);
poly(2, c_inCore, BROWN, 0.3);
poly(2, c_noise, '#a86a10', 0.2);
[c_n1, c_n2, c_n3, c_n4, c_n5].forEach(function (d, k) {
    line(2, d, ORANGE, 4, [4, 3]);
    line(2, d, k % 2 ? '#30d000' : '#a03000', 3, [2, 7], 0.4, 3);
    line(2, d, k % 2 ? '#a03000' : '#60e000', 3, [3, 11], 0.4, 8);
});
poly(2, c_rim, MID, 0.2);
line(2, c_band1, BROWN, 8);
line(2, c_band2, '#00c000', 4);
line(2, c_wall, '#00c000', 4);
line(2, c_edge3, ORANGE, 8);
line(2, c_edge2, '#00c000', 4);
line(2, c_edge1, ORANGE, 5, [4, 4]);
line(2, c_edge1, OLIVE, 5, [4, 4], 0.4, 4);
line(2, c_foot, ORANGE, 6, [40, 16]);
poly(2, c_iv, GRAY);
tag(2, .25, 2.27, '{n|IV}', '#000');
tag(2, .724, 1.3, '{n|Q}{q|*}', '#000');

// d
poly(3, d_q, '#9e0000', 0.25);
poly(3, d_iv, WARM);
tag(3, .255, 1.668, '{n|IV}', '#000');
tag(3, .462, 1.085, '{n|Q}{s|1}', '#fff');
tag(3, .72, .543, '{n|1}{s| 3}', '#fff');

// e
poly(4, e_blue, BLUE, 0.3);
poly(4, e_iv, WARM);
tag(4, .255, 1.672, '{n|IV}', '#000');
tag(4, .903, 1.773, '{n|1}{s| 1}', '#000');
tag(4, .664, .637, '{n|1}{s| 3}', '#000');

// f
line(5, f_outer, '#000', 3, null, 0.2);
line(5, f_core, '#000', 6, null, 0.4);
line(5, f_core2, '#222', 2, null, 0.4);
[f_arm1, f_arm2, f_arm3, f_arm4, f_arm5, f_arm6, f_arm7].forEach(function (d) {
    line(5, d, '#222', 2, null, 0.4);
});
[f_dot1, f_dot2, f_dot3, f_dot4, f_dot5, f_dot6, f_dot7].forEach(function (d) {
    line(5, d, '#333', 2.5, [2.5, 7], 0.4);
});
series.push({
    type: 'scatter', xAxisIndex: 10, yAxisIndex: 10, data: f_dots, symbolSize: 4, silent: true, z: series.length + 2,
    itemStyle: { color: '#222', opacity: 1 }
});
tag(5, .2, 1.44, '{n|Q}{q|*}', '#000');

var grids = [], xAxes = [], yAxes = [];

function axisBase(min, max, ticks) {
    return {
        type: 'value', min: min, max: max, z: 5000,
        splitLine: { show: false },
        axisLine: { show: true, onZero: false, lineStyle: { color: '#000', width: 3 } },
        axisTick: { show: true, inside: true, length: 10, customValues: ticks, lineStyle: { color: '#000', width: 2 } }
    };
}

function nameRich(sub) {
    return {
        i: { fontFamily: SERIF, fontSize: 86, fontStyle: 'italic', lineHeight: 96, color: '#000' },
        t: { fontFamily: SERIF, fontSize: 54, fontStyle: sub, lineHeight: 112, verticalAlign: 'bottom', color: '#000' }
    };
}

panels.forEach(function (c, i) {
    grids.push({ left: c.left, top: c.top, width: c.width, height: c.height, show: true, backgroundColor: c.bg, borderWidth: 0, containLabel: false, outerBoundsMode: 'none' });

    var isF = i === 5;
    var xb = axisBase(0, c.xMax, c.xTicks);
    xb.gridIndex = i;
    xb.position = 'bottom';
    xb.name = isF ? '{i|z}{t|n}' : '{i|p}{t|0}';
    xb.nameLocation = 'middle';
    xb.nameGap = isF ? -12 : 13;
    xb.nameMoveOverlap = false;
    xb.nameTextStyle = { padding: [0, c.nameShift, 0, 0], rich: nameRich(isF ? 'italic' : 'normal') };
    xb.axisLabel = {
        show: true, customValues: isF ? [0, c.xMax] : [c.xMax], margin: c.xMargin, showMinLabel: true, showMaxLabel: true,
        fontFamily: SERIF, fontSize: 84, color: '#000', padding: [0, 0, 0, c.xPad]
    };
    if (isF) { xb.axisLabel.alignMinLabel = 'left'; }
    xAxes.push(xb);

    var xt = axisBase(0, c.xMax, c.xTicks);
    xt.gridIndex = i;
    xt.position = 'top';
    xt.axisLabel = { show: false };
    xAxes.push(xt);

    var yl = axisBase(c.yMin, c.yMax, c.yTicks);
    yl.gridIndex = i;
    yl.position = 'left';
    yl.name = isF ? '{i|x}{t|n}' : '{i|z}{t|0}';
    yl.nameLocation = 'middle';
    yl.nameRotate = 0;
    yl.nameGap = c.nameGapY;
    yl.nameMoveOverlap = false;
    yl.nameTextStyle = { align: 'right', rich: nameRich(isF ? 'italic' : 'normal') };
    var gapMin = Math.min(c.gapTop, c.gapBot);
    yl.axisLabel = {
        show: true, customValues: [c.yMin, c.yMax], margin: gapMin, showMinLabel: true, showMaxLabel: true,
        verticalAlign: 'top',
        verticalAlignMinLabel: isF ? 'bottom' : 'top',
        verticalAlignMaxLabel: 'top',
        fontFamily: SERIF, fontSize: 84, color: '#000',
        formatter: function (v) {
            return v === c.yMax ? '{t|' + v + '}' : '{b|' + v + '}';
        },
        rich: {
            t: { fontFamily: SERIF, fontSize: 84, color: '#000', lineHeight: c.labTop * 2, padding: [0, c.gapTop - gapMin, 0, 0] },
            b: { fontFamily: SERIF, fontSize: 84, color: '#000', lineHeight: c.labBot * 2, padding: [0, c.gapBot - gapMin, 0, 0] }
        }
    };
    yAxes.push(yl);

    var yr = axisBase(c.yMin, c.yMax, c.yTicks);
    yr.gridIndex = i;
    yr.position = 'right';
    yr.axisLabel = { show: false };
    yAxes.push(yr);
});

var titles = titleLines.map(function (t) {
    return { left: t[0], top: t[1] - 56, text: t[2], padding: 0, textStyle: { rich: richText, fontFamily: SERIF, fontSize: 88, fontWeight: 'normal' } };
});

var myChart = echarts.init(document.getElementById('main'), null, { renderer: 'canvas' });
myChart.setOption({
    animation: false,
    backgroundColor: '#ffffff',
    title: titles,
    grid: grids,
    xAxis: xAxes,
    yAxis: yAxes,
    series: series
});
</script>
</body>
</html>
